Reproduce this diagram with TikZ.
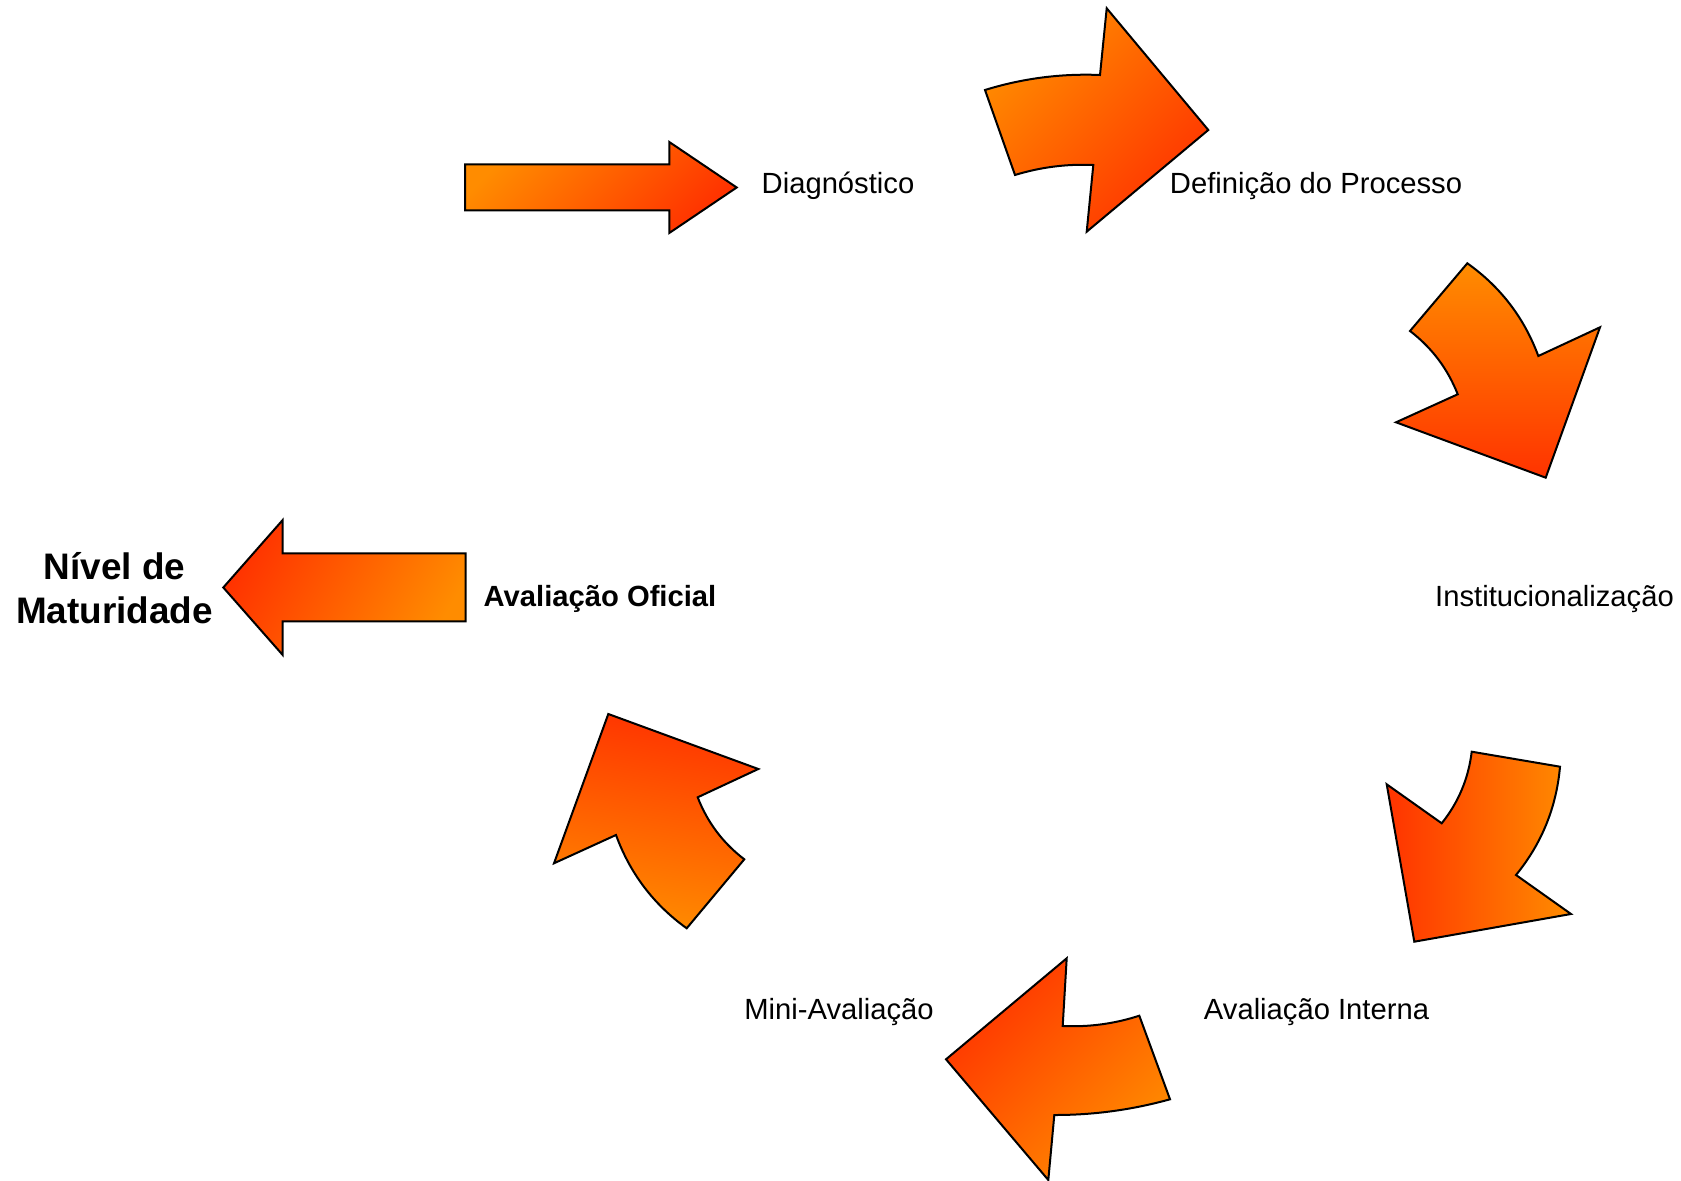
\documentclass[tikz,border=0pt]{standalone}
\usepackage{fontspec}
\setmainfont{Liberation Sans}
\definecolor{warm}{RGB}{255,140,0}
\definecolor{hot}{RGB}{255,51,0}
\begin{document}
\begin{tikzpicture}[x=0.5pt,y=-0.5pt,
  flow/.style={draw=black,line width=1pt,line join=miter,top color=hot,bottom color=warm},
  stage/.style={font=\fontsize{14.6}{17.5}\selectfont,inner sep=0pt,anchor=base},
  goal/.style={font=\bfseries\fontsize{18.45}{22}\selectfont,inner sep=0pt,anchor=base}]
\useasboundingbox (0,0) rectangle (1681,1181);

% straight entry arrow
\path[flow,shading angle=-135]
  (465,164.5) -- (669.3,164.5) -- (669.3,142) -- (736.7,187.5)
  -- (669.3,233) -- (669.3,210.5) -- (465,210.5) -- cycle;

% curved arrows of the cycle
\path[flow,shading angle=-135]
  (985,90) .. controls (1022.5,78.4) and (1060.8,73.4) .. (1100,75)
  -- (1106.7,8.3) -- (1208.3,130) -- (1086.7,231.7) -- (1093.3,165)
  .. controls (1066.6,163.8) and (1040.5,167.2) .. (1015,175) -- cycle;

\path[flow,shading angle=180]
  (1467.3,263.3) .. controls (1500.5,286.9) and (1524.2,317.8) .. (1538.3,356)
  -- (1600,327.3) -- (1545.7,477.7) -- (1396,422.3) -- (1457.7,394.3)
  .. controls (1447.7,368.8) and (1431.8,347.7) .. (1410,331) -- cycle;

\path[flow,shading angle=90]
  (1471.7,751.7) -- (1560,766.7)
  .. controls (1556.4,807.3) and (1541.8,843.4) .. (1516,875)
  -- (1571,914) -- (1414.3,941.7) -- (1386.7,784.3) -- (1441.7,823.3)
  .. controls (1458.5,802.3) and (1468.5,778.4) .. cycle;

\path[flow,shading angle=45]
  (1139.3,1015.7) -- (1170,1099.3)
  .. controls (1132.1,1109.8) and (1093.6,1115.1) .. (1054.3,1115)
  -- (1048.3,1180) -- (946,1059.3) -- (1066.7,958.3) -- (1062.7,1026)
  .. controls (1088.9,1027.2) and (1114.4,1023.8) .. cycle;

\path[flow,shading angle=-10]
  (608.3,714) -- (758.3,769) -- (697.7,797.3)
  .. controls (707.4,822.4) and (722.9,843) .. (744.3,859.3) -- (686.7,928.3)
  .. controls (653.6,904.5) and (630,873.4) .. (616,835) -- (554,863.3) -- cycle;

% exit arrow
\path[flow,shading angle=60]
  (223.3,587.5) -- (282.7,520) -- (282.7,553.5) -- (465.7,553.5)
  -- (465.7,621.5) -- (282.7,621.5) -- (282.7,655) -- cycle;

% stage labels
\node[stage] (diag) at (838,194) {Diagnóstico};
\node[stage] (defp) at (1316,194) {Definição do Processo};
\node[stage] (inst) at (1554.5,606.5) {Institucionalização};
\node[stage] (aint) at (1316.5,1019.5) {Avaliação Interna};
\node[stage] (mini) at (839,1019.5) {Mini-Avaliação};
\node[stage,font=\bfseries\fontsize{14.6}{17.5}\selectfont] (aofi) at (600,606.5) {Avaliação Oficial};
\node[goal] (nivel) at (114.5,580)
  {\begin{tabular}[t]{@{}c@{}}Nível de\\Maturidade\end{tabular}};
\end{tikzpicture}
\end{document}
